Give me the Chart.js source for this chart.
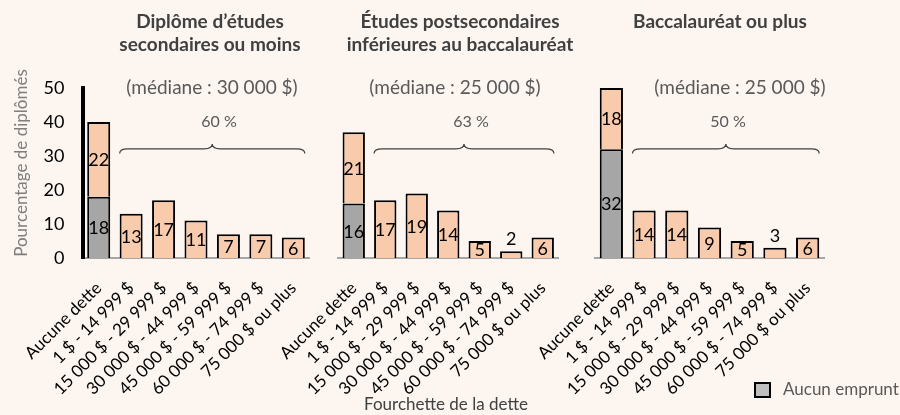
<!DOCTYPE html>
<html lang="fr">
<head>
<meta charset="utf-8">
<script src="https://cdn.jsdelivr.net/npm/chart.js@4.4.0/dist/chart.umd.min.js"></script>
<style>
  html, body { margin:0; padding:0; background:#fcf5f0; }
  #wrap { position:relative; width:900px; height:415px; overflow:hidden; background:#fcf5f0; }
  #wrap canvas { position:absolute; left:0; top:0; }
</style>
</head>
<body>
<div id="wrap">
  <canvas id="c1" width="900" height="415"></canvas>
  <canvas id="c2" width="900" height="415"></canvas>
  <canvas id="c3" width="900" height="415"></canvas>
</div>
<script>
// Debt ranges (x axis) and shares of graduates, in %
const CATEGORIES = ['Aucune dette', '1 $ - 14 999 $', '15 000 $ - 29 999 $', '30 000 $ - 44 999 $',
                    '45 000 $ - 59 999 $', '60 000 $ - 74 999 $', '75 000 $ ou plus'];
const Y_TICKS = [0, 10, 20, 30, 40, 50];

const TITLES_1 = ['Diplôme d’études', 'secondaires ou moins'];
const TITLES_2 = ['Études postsecondaires', 'inférieures au baccalauréat'];
const TITLES_3 = ['Baccalauréat ou plus'];
const MEDIANS = ['(médiane : 30 000 $)', '(médiane : 25 000 $)', '(médiane : 25 000 $)'];
const SHARE_WITH_DEBT = ['60 %', '63 %', '50 %'];

const NO_LOAN_1 = [18, null, null, null, null, null, null];
const DEBT_1    = [22, 13, 17, 11, 7, 7, 6];
const NO_LOAN_2 = [16, null, null, null, null, null, null];
const DEBT_2    = [21, 17, 19, 14, 5, 2, 6];
const NO_LOAN_3 = [32, null, null, null, null, null, null];
const DEBT_3    = [18, 14, 14, 9, 5, 3, 6];

const LEGEND_LABEL = 'Aucun emprunt';
const Y_TITLE = 'Pourcentage de diplômés';
const X_TITLE = 'Fourchette de la dette';

// panel layout (chart area edges in px, annotation anchors)
const PANELS = [
  { id:'c1', left:82.5, right:309.5, showY:true,  titles:TITLES_1, titleX:210, medX:212, pctX:219,
    noLoan:NO_LOAN_1, debt:DEBT_1, median:MEDIANS[0], pct:SHARE_WITH_DEBT[0] },
  { id:'c2', left:338,  right:558.5, showY:false, titles:TITLES_2, titleX:460, medX:455, pctX:471,
    noLoan:NO_LOAN_2, debt:DEBT_2, median:MEDIANS[1], pct:SHARE_WITH_DEBT[1] },
  { id:'c3', left:595,  right:824,   showY:false, titles:TITLES_3, titleX:720, medX:740, pctX:728,
    noLoan:NO_LOAN_3, debt:DEBT_3, median:MEDIANS[2], pct:SHARE_WITH_DEBT[2], legend:true },
];

const FONT = 'Lato, "Open Sans", sans-serif';

function drawBrace(ctx, x1, x2, yTop, yBot) {
  const xm = (x1 + x2) / 2, ym = (yTop + yBot) / 2, r = 8;
  ctx.beginPath();
  ctx.moveTo(x1, yBot);
  ctx.quadraticCurveTo(x1, ym, x1 + r, ym);
  ctx.lineTo(xm - r, ym);
  ctx.quadraticCurveTo(xm, ym, xm, yTop);
  ctx.quadraticCurveTo(xm, ym, xm + r, ym);
  ctx.lineTo(x2 - r, ym);
  ctx.quadraticCurveTo(x2, ym, x2, yBot);
  ctx.stroke();
}

function makeAnnotate(p) {
  return {
    id: 'annotate',
    afterDatasetsDraw(chart) {
      const ctx = chart.ctx;
      const y = chart.scales.y;
      ctx.save();
      ctx.textAlign = 'center';
      ctx.textBaseline = 'middle';

      // panel title
      ctx.fillStyle = '#404040';
      ctx.font = 'bold 19px ' + FONT;
      p.titles.forEach((line, i) => ctx.fillText(line, p.titleX, 22 + i * 23));

      // median + share annotations
      ctx.fillStyle = '#595959';
      ctx.font = '19px ' + FONT;
      ctx.fillText(p.median, p.medX, 88);
      ctx.font = '16px ' + FONT;
      ctx.fillText(p.pct, p.pctX, 122);

      // brace over the indebted bars
      const bars = chart.getDatasetMeta(1).data;
      const x1 = bars[1].x - bars[1].width / 2;
      const x2 = bars[6].x + bars[6].width / 2;
      ctx.strokeStyle = '#404040';
      ctx.lineWidth = 1.2;
      drawBrace(ctx, x1, x2, y.getPixelForValue(33.5), y.getPixelForValue(30.7));

      // value labels
      ctx.fillStyle = '#000';
      ctx.font = '18px ' + FONT;
      chart.data.datasets.forEach((ds, di) => {
        chart.getDatasetMeta(di).data.forEach((bar, i) => {
          const v = ds.data[i];
          if (v == null) return;
          if (v <= 3) {
            ctx.textBaseline = 'bottom';
            ctx.fillText(String(v), bar.x, bar.y - 3);
          } else {
            ctx.textBaseline = 'middle';
            ctx.fillText(String(v), bar.x, (bar.y + bar.base) / 2 + 1);
          }
        });
      });

      if (p.showY) {
        ctx.save();
        ctx.translate(22, 163);
        ctx.rotate(-Math.PI / 2);
        ctx.fillStyle = '#7f7f7f';
        ctx.font = '17px ' + FONT;
        ctx.textBaseline = 'middle';
        ctx.fillText(Y_TITLE, 0, 0);
        ctx.restore();
      }

      if (p.legend) {
        ctx.fillStyle = '#404040';
        ctx.font = '17px ' + FONT;
        ctx.textBaseline = 'middle';
        ctx.fillText(X_TITLE, 446, 405);

        ctx.fillStyle = '#bfbfbf';
        ctx.fillRect(755, 383, 15, 14);
        ctx.strokeStyle = '#000';
        ctx.lineWidth = 2;
        ctx.strokeRect(755, 383, 15, 14);
        ctx.fillStyle = '#595959';
        ctx.textAlign = 'left';
        ctx.fillText(LEGEND_LABEL, 783, 390);
      }
      ctx.restore();
    }
  };
}

const charts = PANELS.map(p => new Chart(document.getElementById(p.id), {
  type: 'bar',
  data: {
    labels: CATEGORIES,
    datasets: [
      { label: LEGEND_LABEL, data: p.noLoan, backgroundColor: '#a6a6a6', borderColor: '#000', borderWidth: 2 },
      { label: 'Avec dette', data: p.debt, backgroundColor: '#f8cbad', borderColor: '#000', borderWidth: 2 },
    ]
  },
  options: {
    responsive: false,
    animation: false,
    devicePixelRatio: 1,
    layout: { padding: { left: p.showY ? 0 : p.left, right: 900 - p.right, top: 88, bottom: 0 } },
    datasets: { bar: { barPercentage: 0.71, categoryPercentage: 1 } },
    scales: {
      x: {
        stacked: true,
        grid: { display: false, drawTicks: false },
        border: { display: true, color: '#a6a6a6', width: 2 },
        ticks: { color: '#000', font: { family: FONT, size: 17 }, maxRotation: 45, minRotation: 45, autoSkip: false, padding: 20 },
        afterFit: s => { s.height = 157; s.paddingLeft = 0; s.paddingRight = 0; }
      },
      y: {
        stacked: true,
        display: p.showY,
        min: 0, max: 50,
        afterBuildTicks: s => { s.ticks = Y_TICKS.map(v => ({ value: v })); },
        grid: { display: false, drawTicks: false },
        border: { display: true, color: '#000', width: 4 },
        ticks: { color: '#000', font: { family: FONT, size: 18 }, padding: 18 },
        afterFit: s => { s.width = p.showY ? p.left : 0; }
      }
    },
    plugins: { legend: { display: false }, tooltip: { enabled: false } }
  },
  plugins: [makeAnnotate(p)]
}));
</script>
</body>
</html>
